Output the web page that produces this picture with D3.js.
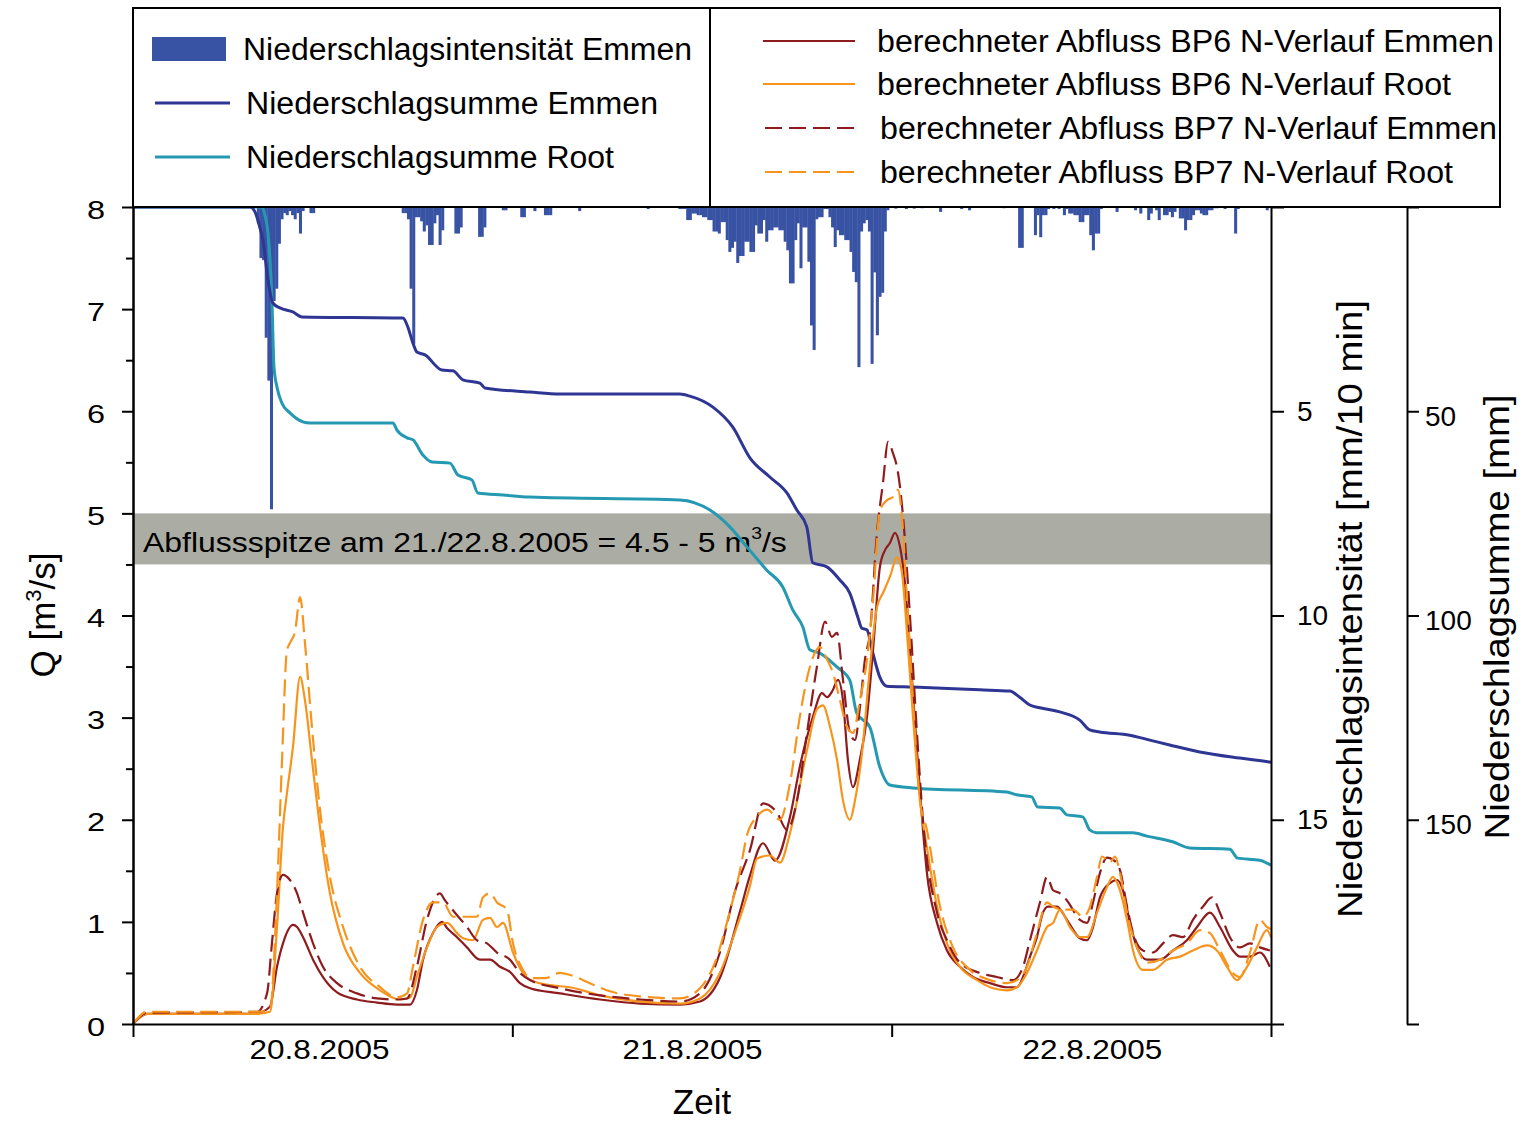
<!DOCTYPE html>
<html><head><meta charset="utf-8">
<script src="https://cdn.jsdelivr.net/npm/d3@7"></script>
<style>
body{margin:0;background:#fff;}
text{font-family:"Liberation Sans",Arial,sans-serif;fill:#000;}
</style></head>
<body>
<svg id="c" width="1524" height="1123"></svg>
<script>
// ---------------- DATA ----------------
// time in hours since 20.8.2005 00:00 ; rain start in minutes (10-min bins)
const dayTicks = [0, 24, 48, 72];
const dayLabels = ["20.8.2005", "21.8.2005", "22.8.2005"];
const dayLabelHours = [11.8, 35.4, 60.7];
const qTicks = [0,1,2,3,4,5,6,7,8];
const intensTicks = [5,10,15];
const sumTicks = [50,100,150];
const band = [4.5, 5];

const rainEmmen = [
[470,0.4],[480,1.25],[490,1.3],[500,3.2],[510,4.25],[520,7.4],[530,2.3],[540,2.0],[550,0.9],[560,0.3],[570,0.15],[580,0.2],[590,0.1],[600,0.2],[610,0.3],[620,0.15],[630,0.65],[640,0.1],[670,0.15],[680,0.15],
[1020,0.15],[1030,0.15],[1040,0.3],[1050,2.0],[1060,3.35],[1070,0.25],[1080,0.25],[1090,0.35],[1100,0.6],[1110,0.45],[1120,0.93],[1130,0.93],[1140,0.4],[1150,0.2],[1160,0.93],[1170,0.57],[1220,0.65],[1230,0.65],[1240,0.5],[1310,0.73],[1320,0.73],[1330,0.5],[1400,0.08],[1410,0.08],[1470,0.25],[1480,0.25],[1520,0.1],[1560,0.2],[1570,0.2],[1580,0.2],[1690,0.1],[1950,0.05],
[2070,0.05],[2080,0.05],[2090,0.05],[2100,0.32],[2110,0.32],[2120,0.16],[2130,0.16],[2140,0.2],[2150,0.2],[2160,0.25],[2170,0.25],[2180,0.32],[2190,0.32],[2200,0.6],[2210,0.6],[2220,0.65],[2230,0.37],[2240,0.37],[2250,0.81],[2260,1.1],[2270,1.0],[2280,0.85],[2290,1.37],[2300,1.2],[2310,1.2],[2320,0.85],[2330,0.85],[2340,1.1],[2350,1.1],[2360,0.45],[2370,0.65],[2380,0.65],[2390,0.32],[2400,0.85],[2410,0.57],[2420,0.57],[2430,0.5],[2440,0.5],[2450,0.57],[2460,0.57],[2470,0.85],[2480,1.06],[2490,1.87],[2500,1.87],[2510,0.81],[2520,0.4],[2530,1.5],[2540,0.5],[2550,0.5],[2560,1.34],[2570,2.9],[2580,3.5],[2590,0.3],[2600,0.25],[2610,0.25],[2620,0.05],[2630,0.05],[2640,0.25],[2650,0.5],[2660,0.98],[2670,0.57],[2680,0.69],[2690,0.69],[2700,0.81],[2710,0.81],[2720,1.1],[2730,1.59],[2740,1.84],[2750,3.92],[2760,0.6],[2770,0.4],[2780,0.32],[2790,0.6],[2800,3.84],[2810,1.6],[2820,3.14],[2830,2.2],[2840,2.1],[2850,0.6],[2860,0.08],[2890,0.04],[2930,0.05],[2960,0.04],[2990,0.03],[3060,0.12],
[3140,0.05],[3170,0.08],[3210,0.02],[3230,0.02],[3300,0.03],[3360,1.0],[3370,1.0],[3420,0.69],[3430,0.2],[3440,0.74],[3450,0.2],[3460,0.2],[3470,0.05],[3490,0.05],[3510,0.05],[3530,0.2],[3540,0.05],[3550,0.16],[3560,0.16],[3570,0.2],[3580,0.2],[3590,0.37],[3600,0.37],[3610,0.2],[3620,0.2],[3630,0.69],[3640,1.06],[3650,0.65],[3660,0.65],[3670,0.05],[3730,0.12],[3800,0.08],[3820,0.16],[3850,0.32],[3860,0.16],[3880,0.08],[3890,0.32],[3910,0.2],[3920,0.2],[3930,0.12],[3940,0.25],[3950,0.12],[3970,0.28],[3980,0.28],[3990,0.57],[4000,0.32],[4010,0.32],[4020,0.2],[4030,0.08],[4040,0.08],[4050,0.16],[4060,0.2],[4070,0.2],[4080,0.08],[4090,0.08],[4100,0.03],[4110,0.03],[4140,0.05],[4180,0.65],[4190,0.05],[4250,0.02],[4260,0.02],[4300,0.08]
];

const sumEmmen = [
[0,0],[7.40,0],[7.72,1.2],[8.03,5.1],[8.22,8.1],[8.54,17.9],[8.85,23.5],[9.30,24.7],[10.12,25.7],[10.69,26.9],[17.08,27.2],[17.39,29.4],[17.71,33.3],[17.96,35.5],[18.47,36.2],[19.54,39.9],[20.24,40.1],[20.87,42.3],[21.95,43.1],[22.26,44.3],[25.11,45.3],[27.01,45.8],[34.60,45.8],[35.23,46.3],[36.69,49.0],[37.95,53.9],[39.03,61.4],[40.29,66.1],[41.37,70.0],[42.00,74.2],[42.63,78.3],[43.01,87.1],[43.90,88.1],[44.72,91.3],[45.35,94.5],[45.86,100.4],[46.11,103.1],[46.43,103.5],[46.81,109.2],[47.25,115.1],[47.69,117.3],[49.34,117.5],[53.57,118.2],[55.47,118.5],[56.10,120.0],[56.74,121.9],[57.37,122.6],[58.63,123.6],[59.90,125.6],[60.53,128.0],[61.16,128.5],[63.06,129.3],[64.33,130.5],[65.59,131.7],[67.49,133.4],[70.02,134.9],[72.0,135.9]
];
const sumRoot = [
[0,0],[8.16,0],[8.35,2.0],[8.54,6.4],[8.79,22.8],[8.92,39.2],[9.11,44.1],[9.42,48.0],[9.93,50.4],[10.75,52.6],[11.20,52.9],[16.45,52.9],[16.70,54.6],[17.33,56.5],[17.71,57.0],[18.34,60.7],[18.91,62.4],[20.05,62.7],[20.56,65.6],[21.44,66.8],[21.82,70.0],[23.40,70.5],[25.11,71.0],[34.60,71.7],[36.50,74.2],[37.76,78.3],[38.84,83.2],[40.10,88.9],[41.11,93.0],[41.75,98.7],[42.38,102.8],[42.82,108.4],[43.45,109.2],[44.53,112.6],[45.35,115.8],[45.79,123.9],[46.62,127.3],[47.25,137.1],[47.88,141.5],[49.34,142.2],[55.28,143.2],[55.91,143.9],[56.86,144.4],[57.24,146.9],[58.63,147.1],[59.08,148.8],[60.09,149.3],[60.53,152.5],[60.97,153.2],[63.25,153.2],[64.14,154.0],[65.78,155.4],[66.86,156.9],[69.39,157.2],[69.89,159.4],[71.28,159.9],[72.0,161.1]
];

const qBP6Emmen = [
[0,0],[0.89,0.1],[7.85,0.1],[8.03,0.11],[8.67,0.17],[9.11,0.56],[9.49,0.79],[10.12,0.97],[10.38,0.95],[10.76,0.85],[11.39,0.63],[12.02,0.46],[12.91,0.31],[14.17,0.24],[15.44,0.21],[16.70,0.19],[17.53,0.19],[17.96,0.33],[18.35,0.63],[18.98,0.89],[19.55,1.0],[19.87,0.94],[20.50,0.85],[21.13,0.75],[21.95,0.63],[22.59,0.63],[23.22,0.56],[23.85,0.51],[24.48,0.40],[25.12,0.35],[27.02,0.30],[29.55,0.24],[32.08,0.20],[34.61,0.19],[35.87,0.22],[37.13,0.45],[38.40,1.1],[39.03,1.45],[39.86,1.77],[40.62,1.6],[41.57,2.03],[42.19,2.52],[43.02,3.01],[43.59,3.24],[43.91,3.20],[44.28,3.27],[44.60,3.37],[44.92,3.17],[45.23,2.59],[45.55,2.32],[45.99,2.59],[46.44,3.01],[46.82,3.66],[47.26,4.48],[47.58,4.64],[47.89,4.71],[48.21,4.81],[48.53,4.67],[48.84,4.32],[49.16,3.66],[49.60,2.68],[49.98,1.9],[50.23,1.48],[50.87,0.99],[51.50,0.72],[52.32,0.56],[53.14,0.46],[54.22,0.40],[55.30,0.36],[55.93,0.36],[56.31,0.46],[56.75,0.66],[57.19,0.85],[57.57,1.09],[57.89,1.15],[58.46,1.15],[59.09,1.02],[59.91,0.84],[60.36,0.82],[60.74,0.95],[61.18,1.24],[61.81,1.38],[62.26,1.41],[62.63,1.31],[63.08,0.99],[63.52,0.75],[64.15,0.63],[64.98,0.63],[65.80,0.72],[66.68,0.82],[67.32,0.95],[68.14,1.09],[68.77,0.95],[69.59,0.72],[70.04,0.66],[70.67,0.66],[71.30,0.70],[71.93,0.56]
];
const qBP6Root = [
[0,0],[0.89,0.1],[7.85,0.1],[8.67,0.12],[9.11,0.95],[9.49,1.93],[9.74,2.26],[10.12,2.71],[10.57,3.40],[10.88,3.17],[11.32,2.59],[11.83,1.93],[12.46,1.28],[13.29,0.79],[14.36,0.50],[15.63,0.33],[16.89,0.24],[17.53,0.26],[17.96,0.46],[18.60,0.75],[19.23,0.95],[19.87,0.99],[20.50,0.89],[20.88,0.84],[21.51,0.82],[22.14,1.02],[22.59,1.04],[23.03,0.95],[23.41,0.99],[24.04,0.70],[24.67,0.50],[25.12,0.43],[26.38,0.38],[27.65,0.36],[29.55,0.28],[32.08,0.22],[34.61,0.20],[35.87,0.25],[37.13,0.50],[38.09,0.9],[39.03,1.35],[39.48,1.62],[40.30,1.65],[40.93,1.58],[41.57,1.87],[42.64,2.68],[43.27,3.08],[43.65,3.12],[44.10,2.91],[44.54,2.59],[44.92,2.19],[45.36,2.0],[45.68,2.19],[46.12,2.65],[46.63,3.50],[47.07,4.08],[47.45,4.22],[47.89,4.38],[48.34,4.57],[48.65,4.42],[48.97,3.83],[49.35,3.01],[49.79,2.19],[50.23,1.73],[50.87,1.15],[51.50,0.79],[52.32,0.56],[53.40,0.43],[54.41,0.35],[55.30,0.33],[55.93,0.36],[56.56,0.50],[57.19,0.72],[57.83,0.95],[58.21,0.99],[58.65,1.12],[59.28,0.95],[59.91,0.85],[60.36,0.85],[60.99,1.09],[61.62,1.34],[62.00,1.44],[62.44,1.31],[62.89,1.02],[63.27,0.72],[63.90,0.53],[64.53,0.53],[65.42,0.63],[66.24,0.66],[67.06,0.72],[67.95,0.77],[68.58,0.72],[69.22,0.56],[69.85,0.43],[70.48,0.56],[71.11,0.75],[71.74,0.92],[72.0,0.85]
];
const qBP7Emmen = [
[0,0],[0.89,0.11],[7.85,0.12],[8.48,0.30],[8.79,0.79],[9.11,1.28],[9.49,1.46],[9.93,1.41],[10.38,1.28],[10.76,1.09],[11.39,0.79],[12.02,0.56],[12.91,0.40],[14.17,0.30],[15.44,0.25],[16.70,0.24],[17.34,0.25],[17.96,0.56],[18.60,1.02],[19.42,1.28],[19.74,1.21],[20.37,1.09],[21.13,0.95],[21.76,0.82],[22.40,0.79],[23.03,0.70],[23.85,0.63],[24.48,0.50],[25.12,0.43],[27.02,0.35],[29.55,0.28],[32.08,0.24],[34.61,0.22],[35.87,0.30],[37.13,0.70],[38.09,1.3],[39.03,1.70],[39.86,2.16],[40.74,2.07],[41.38,1.90],[42.01,2.19],[42.64,2.85],[43.27,3.50],[43.78,3.94],[44.22,3.79],[44.54,3.83],[44.92,3.37],[45.36,2.85],[45.68,2.78],[45.99,3.10],[46.31,3.57],[46.63,3.83],[47.07,4.81],[47.45,5.30],[47.77,5.70],[48.08,5.59],[48.40,5.40],[48.72,4.97],[49.16,3.99],[49.60,2.85],[49.98,2.0],[50.87,1.09],[51.50,0.82],[52.32,0.60],[53.59,0.50],[54.66,0.46],[55.68,0.43],[56.31,0.56],[56.75,0.82],[57.38,1.19],[57.83,1.44],[58.21,1.31],[58.65,1.28],[59.09,1.21],[59.91,1.02],[60.36,0.99],[60.74,1.19],[61.18,1.48],[61.62,1.63],[62.00,1.61],[62.44,1.51],[62.89,1.15],[63.27,0.89],[63.90,0.72],[64.53,0.70],[65.17,0.79],[65.80,0.87],[66.43,0.85],[67.06,1.02],[67.70,1.15],[68.27,1.24],[68.77,1.09],[69.40,0.85],[70.04,0.75],[70.67,0.79],[71.30,0.75],[71.93,0.72]
];
const qBP7Root = [
[0,0],[0.89,0.12],[7.85,0.12],[8.67,0.14],[9.11,1.28],[9.43,2.59],[9.74,3.66],[9.93,3.73],[10.25,3.84],[10.57,4.18],[10.88,3.73],[11.32,2.91],[11.83,2.10],[12.46,1.44],[13.29,0.95],[14.36,0.56],[15.63,0.36],[16.70,0.26],[17.34,0.30],[17.71,0.56],[18.35,1.02],[18.98,1.19],[19.61,1.19],[20.25,1.05],[20.88,1.05],[21.76,1.05],[22.14,1.24],[22.59,1.28],[23.03,1.19],[23.66,1.12],[24.04,0.79],[24.67,0.53],[25.12,0.45],[26.07,0.45],[27.02,0.50],[27.65,0.48],[28.91,0.40],[30.18,0.32],[32.08,0.27],[34.61,0.25],[35.87,0.35],[36.82,0.6],[37.76,1.1],[38.40,1.5],[38.85,1.85],[39.48,2.03],[40.11,2.10],[40.93,2.0],[41.57,2.36],[42.19,3.01],[42.83,3.50],[43.46,3.69],[43.91,3.57],[44.28,3.44],[44.73,3.17],[45.17,2.91],[45.55,2.85],[45.99,3.17],[46.44,3.57],[46.82,4.15],[47.26,5.03],[47.71,5.13],[48.08,5.16],[48.40,5.23],[48.65,4.97],[48.97,4.15],[49.35,3.17],[49.79,2.19],[50.23,1.90],[51.06,1.15],[51.88,0.75],[52.95,0.53],[54.22,0.43],[55.30,0.40],[55.93,0.43],[56.56,0.56],[57.19,0.89],[57.83,1.19],[58.21,1.15],[58.84,1.12],[59.47,1.12],[60.10,1.05],[60.55,1.15],[60.99,1.44],[61.31,1.64],[61.81,1.58],[62.13,1.64],[62.44,1.48],[62.89,1.09],[63.52,0.75],[64.15,0.60],[64.98,0.63],[65.80,0.72],[66.68,0.79],[67.51,0.92],[68.14,0.89],[68.77,0.72],[69.59,0.50],[70.04,0.46],[70.67,0.70],[71.30,1.02],[71.74,0.95],[72.0,0.93]
];

const legendLeft = [
  {label:"Niederschlagsintensität Emmen", type:"rect", color:"#3953a4", w:449},
  {label:"Niederschlagsumme Emmen", type:"line", color:"#2e3593", w:412},
  {label:"Niederschlagsumme Root", type:"line", color:"#2599b2", w:368}
];
const legendRight = [
  {label:"berechneter Abfluss BP6 N-Verlauf Emmen", color:"#8e1b1e", dash:null, w:617},
  {label:"berechneter Abfluss BP6 N-Verlauf Root", color:"#f7941d", dash:null, w:574},
  {label:"berechneter Abfluss BP7 N-Verlauf Emmen", color:"#8e1b1e", dash:"17,7", w:617},
  {label:"berechneter Abfluss BP7 N-Verlauf Root", color:"#f7941d", dash:"17,7", w:573}
];

// ---------------- CHART ----------------
const svg = d3.select("#c");
const X0 = 133, X1 = 1271, Y0 = 207, Y1 = 1024;
const x = d3.scaleLinear().domain([0, 72]).range([X0, X1]);
const yQ = d3.scaleLinear().domain([0, 8]).range([Y1, Y0]);
const yI = d3.scaleLinear().domain([0, 20]).range([Y0, Y1]);
const yS = d3.scaleLinear().domain([0, 200]).range([Y0, Y1]);

// band
svg.append("rect").attr("x", X0).attr("width", X1 - X0)
  .attr("y", yQ(band[1])).attr("height", yQ(band[0]) - yQ(band[1]))
  .attr("fill", "#abada4");
const bt = svg.append("text").attr("x", 143).attr("y", yQ(4.75) + 13)
  .attr("font-size", 28);
bt.append("tspan").text("Abflussspitze am 21./22.8.2005 = 4.5 - 5 m");
bt.append("tspan").attr("font-size", 17).attr("dy", -13).text("3");
bt.append("tspan").attr("dy", 13).text("/s");
(function(){const bb=bt.node().getBBox();const s=(787-143)/bb.width;
 bt.attr("transform",`translate(${143},0) scale(${s},1) translate(${-143},0)`);})();

// rain bars
svg.append("g").selectAll("rect").data(rainEmmen).join("rect")
  .attr("x", d => x(d[0] / 60))
  .attr("width", d => x((d[0] + 10) / 60) - x(d[0] / 60) + 0.4)
  .attr("y", yI(0))
  .attr("height", d => yI(d[1]) - yI(0))
  .attr("fill", "#3953a4");

// sum lines
const lS = d3.line().x(d => x(d[0])).y(d => yS(d[1])).curve(d3.curveMonotoneX);
svg.append("path").datum(sumRoot).attr("d", lS).attr("fill", "none")
  .attr("stroke", "#2599b2").attr("stroke-width", 3);
svg.append("path").datum(sumEmmen).attr("d", lS).attr("fill", "none")
  .attr("stroke", "#2e3593").attr("stroke-width", 3);

// discharge lines
const lQ = d3.line().x(d => x(d[0])).y(d => yQ(d[1])).curve(d3.curveMonotoneX);
const qSeries = [
  {d:qBP6Emmen, c:"#8e1b1e", dash:null},
  {d:qBP6Root, c:"#f7941d", dash:null},
  {d:qBP7Emmen, c:"#8e1b1e", dash:"17,7"},
  {d:qBP7Root, c:"#f7941d", dash:"17,7"}
];
qSeries.forEach(s => {
  svg.append("path").datum(s.d).attr("d", lQ).attr("fill", "none")
    .attr("stroke", s.c).attr("stroke-width", 2.2)
    .attr("stroke-dasharray", s.dash);
});

// axes
function styleAxis(g, fs){
  g.selectAll(".domain").attr("stroke","#000").attr("stroke-width",2);
  g.selectAll(".tick line").attr("stroke","#000").attr("stroke-width",2);
  g.selectAll(".tick text").attr("font-family","'Liberation Sans',Arial,sans-serif").attr("font-size",fs||28).attr("fill","#000");
}
const gl = svg.append("g").attr("transform",`translate(${X0},0)`)
  .call(d3.axisLeft(yQ).tickValues(qTicks).tickSize(11).tickSizeOuter(0).tickPadding(14).tickFormat(d3.format("d")));
styleAxis(gl, 25);
gl.selectAll(".tick text").attr("x", 0).attr("dy", "0.36em")
  .attr("transform", "translate(-28,2) scale(1.3,1)");
const glm = svg.append("g").attr("transform",`translate(${X0},0)`)
  .call(d3.axisLeft(yQ).tickValues(d3.range(0.5, 8, 1)).tickSize(7).tickSizeOuter(0).tickFormat(""));
styleAxis(glm);

const gb = svg.append("g").attr("transform",`translate(0,${Y1})`)
  .call(d3.axisBottom(x).tickValues(dayTicks).tickSize(13).tickSizeOuter(0).tickFormat(""));
styleAxis(gb);
svg.append("g").selectAll("text").data(dayLabels).join("text")
  .attr("x",(d,i)=>x(dayLabelHours[i])).attr("y",1059)
  .attr("text-anchor","middle").attr("font-size",28)
  .attr("textLength",140).attr("lengthAdjust","spacingAndGlyphs").text(d=>d);

const gi = svg.append("g").attr("transform",`translate(${X1},0)`)
  .call(d3.axisRight(yI).tickValues([0].concat(intensTicks,[20])).tickSize(13).tickSizeOuter(0).tickPadding(13)
  .tickFormat(d => intensTicks.includes(d) ? d : ""));
styleAxis(gi);
const gs = svg.append("g").attr("transform",`translate(1407,0)`)
  .call(d3.axisRight(yS).tickValues([0].concat(sumTicks,[200])).tickSize(12).tickSizeOuter(0).tickPadding(6)
  .tickFormat(d => sumTicks.includes(d) ? d : ""));
styleAxis(gs);
gs.selectAll(".tick text").attr("dy","0.5em");
// top frame
svg.append("line").attr("x1",X0).attr("x2",1500).attr("y1",Y0).attr("y2",Y0).attr("stroke","#000").attr("stroke-width",2);

// axis titles
const qt = svg.append("text").attr("transform","translate(55,615) rotate(-90)")
  .attr("text-anchor","middle").attr("font-size",35);
qt.append("tspan").text("Q [m");
qt.append("tspan").attr("font-size",22).attr("dy",-14).text("3");
qt.append("tspan").attr("dy",14).text("/s]");
svg.append("text").attr("transform","translate(1362,609) rotate(-90)")
  .attr("text-anchor","middle").attr("font-size",35)
  .attr("textLength",618).attr("lengthAdjust","spacingAndGlyphs")
  .text("Niederschlagsintensität [mm/10 min]");
svg.append("text").attr("transform","translate(1509,617) rotate(-90)")
  .attr("text-anchor","middle").attr("font-size",35)
  .attr("textLength",445).attr("lengthAdjust","spacingAndGlyphs")
  .text("Niederschlagsumme [mm]");
svg.append("text").attr("x",702).attr("y",1114).attr("text-anchor","middle")
  .attr("font-size",35).text("Zeit");

// legend
const lg = svg.append("g");
lg.append("rect").attr("x",X0).attr("y",8).attr("width",1500-X0).attr("height",Y0-8)
  .attr("fill","#fff").attr("stroke","#000").attr("stroke-width",2);
lg.append("line").attr("x1",710).attr("x2",710).attr("y1",8).attr("y2",Y0).attr("stroke","#000").attr("stroke-width",2);
const leftRowsY = [49,103,157];
legendLeft.forEach((e,i)=>{
  const cy = leftRowsY[i];
  if(e.type==="rect") lg.append("rect").attr("x",152).attr("y",cy-12).attr("width",74).attr("height",24).attr("fill",e.color);
  else lg.append("line").attr("x1",155).attr("x2",230).attr("y1",cy).attr("y2",cy).attr("stroke",e.color).attr("stroke-width",3);
  lg.append("text").attr("x", i===0?243:246).attr("y",cy+11).attr("font-size",31)
    .attr("textLength",e.w).attr("lengthAdjust","spacingAndGlyphs").text(e.label);
});
const rightRowsY = [41,84,128,172];
legendRight.forEach((e,i)=>{
  const cy = rightRowsY[i];
  lg.append("line").attr("x1",e.dash?765:763).attr("x2",e.dash?858:855).attr("y1",cy).attr("y2",cy)
    .attr("stroke",e.color).attr("stroke-width",2.2).attr("stroke-dasharray",e.dash);
  lg.append("text").attr("x", e.dash?880:877).attr("y",cy+11).attr("font-size",31)
    .attr("textLength",e.w).attr("lengthAdjust","spacingAndGlyphs").text(e.label);
});
</script>
</body></html>
